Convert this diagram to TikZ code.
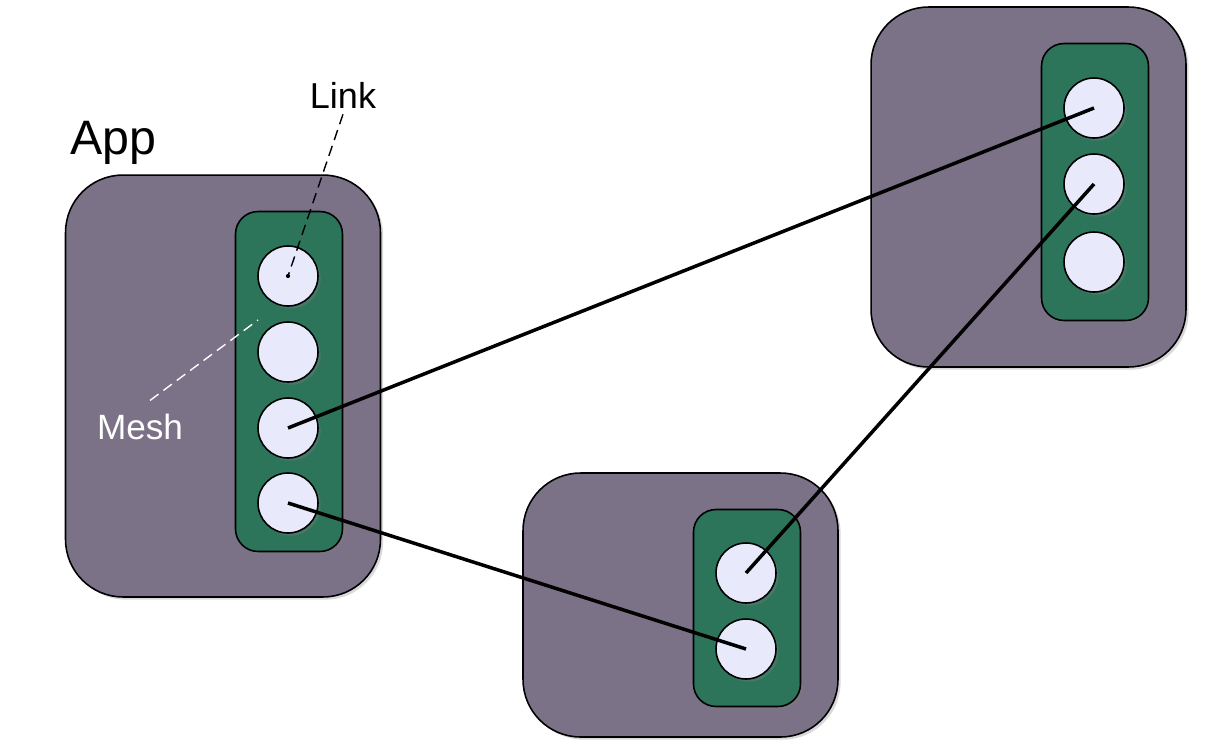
\documentclass[tikz,border=0pt]{standalone}
\usepackage{fontspec}
\setmainfont{Liberation Sans}
\usetikzlibrary{shadows}
\definecolor{appgray}{HTML}{7B7287}
\definecolor{meshgreen}{HTML}{2D755A}
\definecolor{linkblue}{HTML}{E8EAFB}

\begin{document}
\begin{tikzpicture}[x=0.02cm,y=-0.02cm,
  shade/.style={drop shadow={opacity=0.3,shadow xshift=1.5pt,shadow yshift=-1.5pt}},
  app/.style={draw,line width=0.9pt,fill=appgray,rounded corners=1.15cm,inner sep=0pt,shade},
  mesh/.style={draw,line width=0.9pt,fill=meshgreen,rounded corners=0.45cm,inner sep=0pt,minimum width=2.14cm,shade},
  link/.style={draw,line width=0.9pt,fill=linkblue,circle,inner sep=0pt,minimum size=1.2cm,shade},
  wire/.style={line width=2pt}]
\useasboundingbox (0,0) rectangle (1206,754);
% apps
\node[app,minimum width=6.3cm,minimum height=8.44cm] (appA) at (223,386) {};
\node[app,minimum width=6.3cm,minimum height=7.2cm] (appB) at (1028.5,187) {};
\node[app,minimum width=6.3cm,minimum height=5.28cm] (appC) at (680.5,605) {};
% meshes
\node[mesh,minimum height=6.8cm] (meshA) at (289,381.5) {};
\node[mesh,minimum height=5.54cm] (meshB) at (1095,182) {};
\node[mesh,minimum height=3.94cm] (meshC) at (747,608) {};
% links
\node[link] (a1) at (288,276) {};
\node[link] (a2) at (288,352) {};
\node[link] (a3) at (288,428) {};
\node[link] (a4) at (288,503) {};
\node[link] (b1) at (1094,108) {};
\node[link] (b2) at (1094,184) {};
\node[link] (b3) at (1094,262) {};
\node[link] (c1) at (746,573) {};
\node[link] (c2) at (746,649) {};
% wires
\draw[wire] (a3.center) -- (b1.center);
\draw[wire] (b2.center) -- (c1.center);
\draw[wire] (a4.center) -- (c2.center);
% labels
\node (app) at (113,143) {\fontsize{27.5}{32}\selectfont App};
\node (linklabel) at (343,95) {\fontsize{20.5}{24}\selectfont Link};
\node[text=white] (meshlabel) at (140,427) {\fontsize{20}{24}\selectfont Mesh};
\coordinate (meshtip) at (258,320);
\draw[line width=0.8pt,dash pattern=on 6pt off 3.5pt] (linklabel.south) -- (a1.center);
\fill (a1.center) circle (1.2pt);
\draw[white,line width=0.8pt,dash pattern=on 6pt off 3.5pt,shorten <=0.25cm] (meshlabel.north) -- (meshtip);
\end{tikzpicture}
\end{document}
